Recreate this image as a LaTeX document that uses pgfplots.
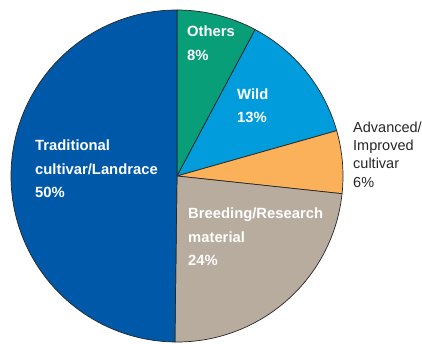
\documentclass[border=0pt]{standalone}
\usepackage{pgfplots}
\pgfplotsset{compat=1.18}
\usepackage{fontspec}
\setmainfont{Liberation Sans}
\definecolor{cOthers}{RGB}{8,158,120}
\definecolor{cWild}{RGB}{0,156,220}
\definecolor{cAdv}{RGB}{251,176,90}
\definecolor{cBreed}{RGB}{184,172,158}
\definecolor{cTrad}{RGB}{0,89,168}
% #1 cumulative share before slice, #2 share (%), #3 colour
\newcommand\pieslice[3]{%
  \fill[#3, draw=black!85, line width=0.7pt, line join=round]
    (axis cs:177,167) -- ++({90-3.6*#1}:166pt)
    arc[start angle={90-3.6*#1}, end angle={90-3.6*(#1+#2)}, radius=166pt] -- cycle;}
\begin{document}
\begin{tikzpicture}
\begin{axis}[x=1pt, y=1pt, xmin=0, xmax=422, ymin=0, ymax=343,
  hide axis, clip=false]
% shares (%): Others 7.8, Wild 12.8, Advanced/Improved 6.1, Breeding/Research 23.5, Traditional 49.8
\pieslice{0}{7.8}{cOthers}
\pieslice{7.8}{12.8}{cWild}
\pieslice{20.6}{6.1}{cAdv}
\pieslice{26.7}{23.5}{cBreed}
\pieslice{50.2}{49.8}{cTrad}
\begin{scope}[every node/.style={anchor=base west, inner sep=0pt, text=white, font=\fontsize{14.8}{17}\selectfont\bfseries}]
\node at (axis cs:187,306) {Others};
\node at (axis cs:187,282) {8\%};
\node at (axis cs:237,243) {Wild};
\node at (axis cs:237,220) {13\%};
\node at (axis cs:35,193) {Traditional};
\node at (axis cs:35,169) {cultivar/Landrace};
\node at (axis cs:35,146) {50\%};
\node at (axis cs:188,125) {Breeding/Research};
\node at (axis cs:188,101) {material};
\node at (axis cs:188,78) {24\%};
\end{scope}
\begin{scope}[every node/.style={anchor=base west, inner sep=0pt, text=black!85, font=\fontsize{14.5}{17}\selectfont}]
\node at (axis cs:353,211) {Advanced/};
\node at (axis cs:353,193) {Improved};
\node at (axis cs:353,175) {cultivar};
\node at (axis cs:353,156) {6\%};
\end{scope}
\coordinate (ll) at (axis cs:0,0);
\coordinate (ur) at (axis cs:422,343);
\end{axis}
\pgfresetboundingbox
\path[use as bounding box] (ll) rectangle (ur);
\end{tikzpicture}
\end{document}
